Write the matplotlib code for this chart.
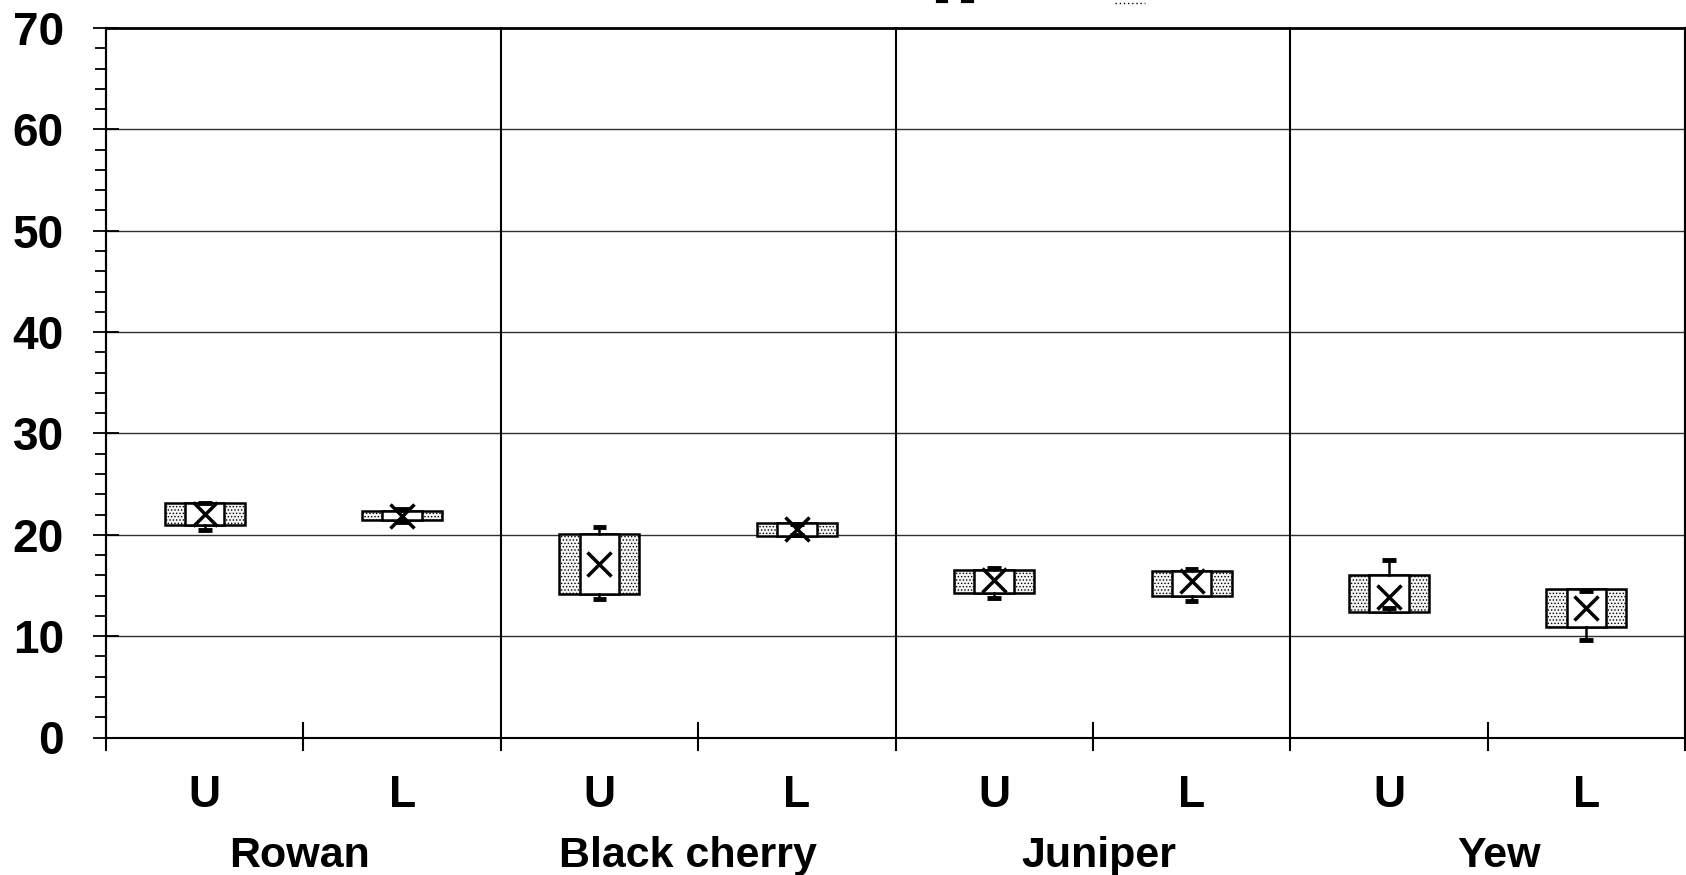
import matplotlib
matplotlib.use('Agg')
import matplotlib.pyplot as plt
from matplotlib.patches import Rectangle
from matplotlib.lines import Line2D

plt.rcParams['font.family'] = ['Liberation Sans', 'DejaVu Sans']
plt.rcParams['font.weight'] = 'bold'
plt.rcParams['hatch.linewidth'] = 0.6

groups = ['Rowan', 'Black cherry', 'Juniper', 'Yew']
sides = ['U', 'L', 'U', 'L', 'U', 'L', 'U', 'L']
q1 = [21.0, 21.5, 14.2, 19.85, 14.3, 14.0, 12.4, 10.9]
q3 = [23.1, 22.3, 20.1, 21.2, 16.5, 16.4, 16.0, 14.7]
wlo = [20.5, 21.3, 13.7, 20.0, 13.8, 13.5, 12.8, 9.6]
whi = [23.1, 22.5, 20.8, 21.1, 16.7, 16.6, 17.5, 14.5]
means = [22.1, 21.9, 17.1, 20.6, 15.5, 15.4, 13.9, 12.8]

W, H = 1686, 875
fig = plt.figure(figsize=(W / 100, H / 100), dpi=100)
ax = fig.add_axes([106 / W, (H - 737.5) / H, (1685 - 106) / W, (737.5 - 28) / H])
ax.set_xlim(0, 8)
ax.set_ylim(0, 70)

# grid
for y in range(10, 70, 10):
    ax.axhline(y, color='#303030', lw=1.0, zorder=1)

# separators and small ticks
for x in [0, 2, 4, 6, 8]:
    ax.plot([x, x], [-1.25, 70], color='black', lw=1.5, clip_on=False, zorder=2)
for x in [1, 3, 5, 7]:
    ax.plot([x, x], [-1.25, 1.4], color='black', lw=1.5, clip_on=False, zorder=2)

bw = 0.405
iw = 0.2
for i in range(8):
    c = i + 0.5
    ax.add_patch(Rectangle((c - bw / 2, q1[i]), bw, q3[i] - q1[i], facecolor='#f4f4f4',
                           hatch='.....', edgecolor='black', lw=1.8, zorder=3))
    ax.add_patch(Rectangle((c - iw / 2, q1[i]), iw, q3[i] - q1[i], facecolor='white',
                           edgecolor='black', lw=1.8, zorder=4))
    ax.plot([c, c], [q3[i], whi[i]], color='black', lw=1.8, zorder=5)
    ax.plot([c, c], [q1[i], wlo[i]], color='black', lw=1.8, zorder=5)
    for w in (wlo[i], whi[i]):
        ax.plot([c - 0.035, c + 0.035], [w, w], color='black', lw=3.5,
                solid_capstyle='butt', zorder=5)
    ax.plot(c, means[i], marker='x', color='black', ms=17, mew=2.5, zorder=6)

# axis text
for i, s in enumerate(sides):
    ax.text(i + 0.5, -5.75, s, ha='center', va='center', fontsize=32,
            fontweight='bold', clip_on=False)
group_x = [0.98, 2.95, 5.03, 7.06]
for gx, g in zip(group_x, groups):
    ax.text(gx, -11.7, g, ha='center', va='center', fontsize=31,
            fontweight='bold', clip_on=False)

ax.set_xticks([])
ax.set_yticks(range(0, 71, 10))
ax.set_yticks(range(0, 71, 2), minor=True)
ax.tick_params(axis='y', which='major', direction='inout', length=18.7, width=1.3,
               pad=21, labelsize=33)
ax.tick_params(axis='y', which='minor', direction='out', length=8, width=1.3)
for lab in ax.get_yticklabels():
    lab.set_fontweight('bold')
for sp in ['left', 'right', 'bottom']:
    ax.spines[sp].set_linewidth(1.5)
ax.spines['top'].set_linewidth(2.0)

# cut-off bits of something above the plot
fig.add_artist(Line2D([938 / W, 946 / W], [1 - 1 / H, 1 - 1 / H], color='black', lw=3))
fig.add_artist(Line2D([963 / W, 972 / W], [1 - 1 / H, 1 - 1 / H], color='black', lw=3))
fig.add_artist(Line2D([1115 / W, 1145 / W], [1 - 3 / H, 1 - 3 / H], color='black', lw=1,
                      linestyle=(0, (1, 2))))

fig.savefig('out.png', dpi=100)
